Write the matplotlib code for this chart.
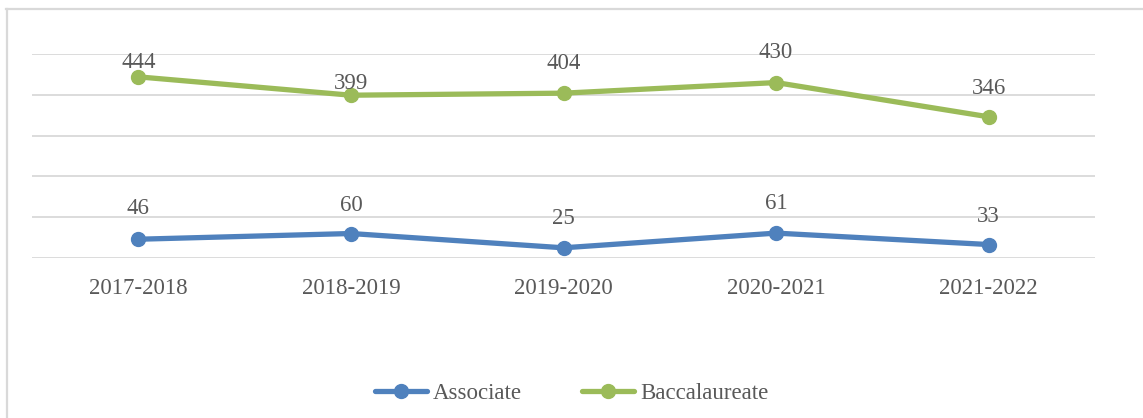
import matplotlib
matplotlib.use("Agg")
import matplotlib.pyplot as plt
from matplotlib.lines import Line2D

categories = ["2017-2018", "2018-2019", "2019-2020", "2020-2021", "2021-2022"]
associate = [46, 60, 25, 61, 33]
baccalaureate = [444, 399, 404, 430, 346]

plt.rcParams['font.family'] = ['Liberation Serif', 'DejaVu Serif']
text_color = "#595959"
blue = "#4F81BD"
green = "#9BBB59"
fs = 16.5
px = 72 / 100  # points per pixel

fig = plt.figure(figsize=(11.43, 4.18), dpi=100)
ax = fig.add_axes([32/1143, 1-258/418, (1095-32)/1143, (258-54)/418])

x = list(range(len(categories)))
ax.plot(x, associate, color=blue, lw=3.8, marker='o', ms=10, solid_capstyle='round', label="Associate", zorder=3)
ax.plot(x, baccalaureate, color=green, lw=3.8, marker='o', ms=10, solid_capstyle='round', label="Baccalaureate", zorder=3)

# label baseline distance above the point (pixels), as placed in the original
assoc_label_gap = [25, 23, 24, 24, 23]
bacc_label_gap = [9, 6.5, 24, 25, 23]

for series, gaps in ((associate, assoc_label_gap), (baccalaureate, bacc_label_gap)):
    for xi, v, g in zip(x, series, gaps):
        ax.annotate(str(v), (xi, v), xytext=(0, g * px), textcoords='offset points',
                    ha='center', va='baseline', fontsize=fs, color=text_color, zorder=4)

ax.set_xlim(-0.5, len(categories) - 0.5)
ax.set_ylim(0, 500)
ax.set_yticks([0, 100, 200, 300, 400, 500])
ax.yaxis.grid(True, color="#D9D9D9", lw=1.3)
ax.set_axisbelow(True)
ax.tick_params(axis='y', left=False, labelleft=False)
ax.tick_params(axis='x', bottom=False, labelsize=fs, labelcolor=text_color, pad=11)
ax.set_xticks(x)
ax.set_xticklabels(categories)
for s in ax.spines.values():
    s.set_visible(False)

leg = fig.legend(loc='center', bbox_to_anchor=(0.5, 1-393/418), ncol=2, frameon=False,
                 fontsize=fs, handlelength=2.3, columnspacing=2.6, handletextpad=0.25)
for t in leg.get_texts():
    t.set_color(text_color)

# chart-area border (top and left edges visible)
fig.add_artist(Line2D([6/1143, 1.0], [1-8.5/418, 1-8.5/418], transform=fig.transFigure,
                      color="#D9D9D9", lw=1.6))
fig.add_artist(Line2D([6.5/1143, 6.5/1143], [0, 1-8.5/418], transform=fig.transFigure,
                      color="#D9D9D9", lw=1.6))

fig.savefig("out.png", dpi=100)
